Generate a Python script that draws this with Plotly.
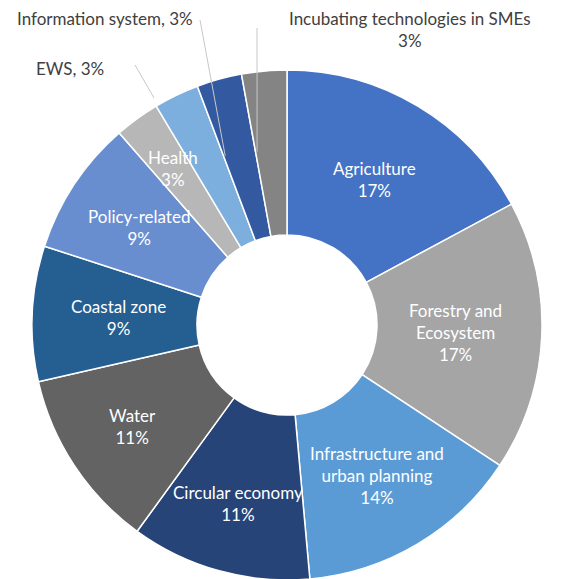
import math
import plotly.graph_objects as go

labels = ['Agriculture', 'Forestry and Ecosystem', 'Infrastructure and urban planning',
          'Circular economy', 'Water', 'Coastal zone', 'Policy-related', 'Health',
          'EWS', 'Information system', 'Incubating technologies in SMEs']
counts = [6, 6, 5, 4, 4, 3, 3, 1, 1, 1, 1]
colors = ['#4472C4', '#A5A5A5', '#5B9BD5', '#264478', '#636363', '#255E91',
          '#698ED0', '#B7B7B7', '#7CAFDD', '#335AA1', '#848484']
# how each label is written in the chart (None = shown outside)
inside_text = ['Agriculture', 'Forestry and<br>Ecosystem', 'Infrastructure and<br>urban planning',
               'Circular economy', 'Water', 'Coastal zone', 'Policy-related', 'Health',
               None, None, None]
# distance of the inside labels from the centre, px
label_r = [170, 169, 175, 185, 185, 169, 177, 194]

W, H = 567, 579
OFF = 8  # page body margin
cx, cy, r_out = 287, 325, 255  # wanted pie centre / radius on screen
hole = 0.353
font = 'Lato, Open Sans, sans-serif'


def paper(x, y):
    return (x - OFF) / W, 1 - (y - OFF) / H


dom_x = [(cx - OFF - r_out) / W, (cx - OFF + r_out) / W]
dom_y = [1 - (cy - OFF + r_out) / H, 1 - (cy - OFF - r_out) / H]

total = sum(counts)
pcts = [f'{round(100 * c / total)}%' for c in counts]

fig = go.Figure()
fig.add_trace(go.Pie(
    labels=labels, values=counts, sort=False, direction='clockwise', rotation=0,
    hole=hole, textinfo='none', showlegend=False,
    marker=dict(colors=colors, line=dict(color='white', width=1.5)),
    domain=dict(x=dom_x, y=dom_y),
))


def point(angle_deg, r):
    a = math.radians(angle_deg)
    return cx + r * math.sin(a), cy - r * math.cos(a)


starts, mids = [], []
acc = 0
for c in counts:
    starts.append(acc / total * 360)
    mids.append((acc + c / 2) / total * 360)
    acc += c

for txt, p, m, rr in zip(inside_text, pcts, mids, label_r):
    px, py = paper(*point(m, rr))
    fig.add_annotation(x=px, y=py, xref='paper', yref='paper', showarrow=False,
                       xanchor='center', yanchor='middle',
                       text=f'{txt}<br>{p}', font=dict(family=font, size=17, color='white'))

# outside labels with leader lines
outside = [
    # index, label text centre, line start, radius of line end
    (8, (70, 68), (135, 65), r_out + 8),
    (9, (105, 18), (200, 20), 180),
    (10, (410, 30), (257, 28), 176),
]
for i, (tx, ty), (lx, ly), rr in outside:
    txt = f'{labels[i]}, {pcts[i]}' if i != 10 else f'{labels[i]}<br>{pcts[i]}'
    px, py = paper(tx, ty)
    fig.add_annotation(x=px, y=py, xref='paper', yref='paper', showarrow=False,
                       xanchor='center', yanchor='middle',
                       text=txt, font=dict(family=font, size=17, color='#404040'))
    ex, ey = point(starts[i] + 0.5, rr)
    x0, y0 = paper(lx, ly)
    x1, y1 = paper(ex, ey)
    fig.add_shape(type='line', xref='paper', yref='paper', x0=x0, y0=y0, x1=x1, y1=y1,
                  line=dict(color='#C8C8C8', width=1))

fig.update_layout(
    width=W, height=H,
    margin=dict(l=0, r=0, t=0, b=0),
    paper_bgcolor='white', plot_bgcolor='white',
)

fig.write_html('out.html')
